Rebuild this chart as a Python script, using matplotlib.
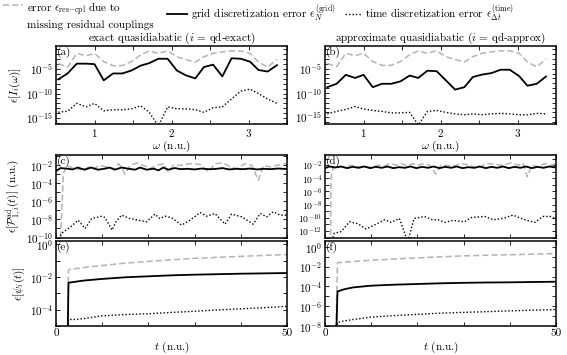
import numpy as np
import matplotlib
matplotlib.use('Agg')
import matplotlib.pyplot as plt
from matplotlib.ticker import FixedLocator, NullFormatter, LogFormatterSciNotation

plt.rcParams['font.family'] = 'serif'
plt.rcParams['font.serif'] = ['cmr10', 'DejaVu Serif']
plt.rcParams['mathtext.fontset'] = 'cm'
plt.rcParams['axes.formatter.use_mathtext'] = True
plt.rcParams['axes.unicode_minus'] = False
plt.rcParams['font.size'] = 8

# ---------------- data (log10 of the errors) ----------------

omega = [0.53, 0.65, 0.77, 0.89, 1.00, 1.12, 1.24, 1.36, 1.48, 1.60, 1.71, 1.83, 1.95,
         2.07, 2.19, 2.31, 2.42, 2.54, 2.66, 2.78, 2.90, 3.02, 3.13, 3.25, 3.37]

# spectra, panel (a)
a_rescpl = [-3.9, -4.6, -1.8, -2.3, -1.8, -3.5, -4.3, -4.3, -3.5, -2.1, -1.3, -1.8, -1.3,
            -2.5, -3.1, -3.6, -2.5, -1.8, -1.5, -1.3, -1.3, -1.8, -3.6, -4.6, -3.0]
a_grid = [-7.1, -5.9, -3.9, -3.9, -4.0, -7.3, -5.9, -5.9, -5.3, -4.3, -3.8, -2.9, -2.9,
          -5.3, -6.3, -6.9, -4.6, -4.1, -6.5, -2.8, -2.9, -3.5, -5.2, -5.5, -4.2]
a_time = [-13.8, -13.6, -12.0, -12.7, -12.0, -13.5, -13.3, -13.3, -13.1, -12.5, -13.8, -16.6, -12.7,
          -13.1, -13.1, -13.3, -13.8, -12.9, -12.7, -11.1, -9.5, -9.1, -10.0, -11.1, -12.0]

# spectra, panel (b)
b_rescpl = a_rescpl
b_grid = [-8.8, -8.1, -6.25, -6.9, -6.25, -8.8, -8.1, -8.1, -7.6, -6.4, -6.9, -5.4, -5.5,
          -7.4, -9.3, -8.8, -6.7, -6.2, -5.9, -5.2, -5.2, -6.5, -8.5, -8.1, -6.6]
b_time = [-14.3, -13.8, -13.4, -12.8, -13.3, -13.6, -13.8, -14.1, -14.1, -14.0, -16.6, -13.8, -13.6,
          -14.0, -14.3, -14.5, -14.3, -14.5, -14.3, -14.2, -14.3, -14.5, -14.5, -14.2, -14.3]

# populations, panel (c)
c_t_rescpl = [0.9, 1.6, 2.3, 3.0, 4.5, 5.9, 7.0, 8.1, 9.5, 10.9, 12.8, 13.5, 14.2, 14.9, 16.0,
              17.5, 18.9, 20.3, 21.8, 23.2, 24.3, 25.4, 26.8, 29.0, 31.2, 33.0, 34.4, 36.1,
              37.8, 39.1, 40.9, 42.4, 43.8, 44.9, 46.3, 47.8, 49.6, 50.0]
c_rescpl = [-11.0, -2.92, -2.0, -2.18, -2.37, -2.55, -2.18, -2.37, -2.0, -2.18, -2.37, -1.81, -2.18,
            -2.99, -2.0, -1.74, -2.0, -2.37, -2.0, -1.81, -2.74, -2.0, -2.0, -1.81, -1.9, -2.74,
            -1.81, -1.74, -2.18, -2.37, -1.81, -2.0, -3.66, -2.0, -2.18, -2.0, -1.81, -1.9]
c_t_grid = [0, 1.0, 2.5, 3.6, 4.7, 6.2, 7.6, 9.1, 10.5, 11.6, 12.7, 14.2, 15.6, 17.1, 18.2, 19.6,
            21.1, 22.2, 23.2, 24.3, 25.7, 27.0, 28.5, 30.0, 31.5, 33.0, 34.5, 36.0, 37.5, 39.0,
            40.5, 42.0, 43.5, 45.0, 46.5, 48.0, 50.0]
c_grid = [-2.62, -2.3, -2.37, -2.45, -2.24, -2.48, -2.24, -2.48, -2.37, -2.24, -2.48, -2.24, -2.37,
          -2.48, -2.24, -2.48, -2.37, -2.55, -2.24, -2.48, -2.3, -2.42, -2.38, -2.45, -2.35, -2.42,
          -2.4, -2.3, -2.45, -2.38, -2.42, -2.35, -2.45, -2.38, -2.42, -2.35, -2.4]
c_t_time = [0.9, 1.6, 3.0, 4.8, 6.3, 7.7, 9.9, 10.6, 12.1, 13.1, 14.2, 16.0, 17.8, 19.6, 21.4,
            22.5, 23.6, 25.0, 27.2, 29.0, 31.2, 32.6, 34.4, 36.6, 38.0, 40.2, 42.7, 44.2, 45.6,
            47.0, 48.5, 50.0]
c_time = [-9.8, -9.37, -8.89, -8.08, -9.0, -7.9, -7.64, -7.78, -9.18, -8.15, -7.52, -7.9, -8.08,
          -8.26, -7.41, -7.9, -7.64, -7.8, -8.63, -8.08, -7.23, -7.64, -7.34, -8.52, -7.41, -7.71,
          -8.52, -7.34, -7.71, -7.15, -7.52, -7.52]

# populations, panel (d)
d_t_rescpl = [1.2, 1.3, 1.7, 2.8, 4.3, 5.7, 7.1, 8.6, 10.0, 11.5, 12.9, 14.0, 15.4, 16.5, 17.9,
              19.0, 20.1, 21.5, 22.6, 24.0, 25.1, 25.9, 27.7, 29.5, 31.3, 33.1, 34.9, 36.7,
              38.5, 40.3, 41.8, 42.9, 43.8, 44.7, 46.1, 47.6, 49.0, 50.0]
d_rescpl = [-14.0, -4.0, -2.5, -2.15, -2.35, -2.0, -2.25, -2.15, -2.35, -2.0, -2.15, -1.75, -2.0,
            -1.75, -2.15, -1.75, -2.0, -1.75, -2.0, -3.36, -2.0, -2.0, -2.15, -1.75, -2.0, -2.5,
            -1.75, -1.85, -2.0, -1.65, -2.0, -1.75, -3.77, -2.0, -2.25, -1.75, -2.0, -1.75]
d_t_grid = [0, 1.0, 2.2, 3.5, 4.8, 6.0, 7.3, 8.5, 9.8, 11.0, 12.3, 13.5, 14.8, 16.0, 17.3, 18.5,
            19.8, 21.0, 22.3, 23.5, 24.8, 26.0, 27.3, 28.5, 29.8, 31.0, 32.3, 33.5, 34.8, 36.0,
            37.3, 38.5, 39.8, 41.0, 42.3, 43.5, 44.8, 46.0, 47.3, 48.5, 50.0]
d_grid = [-2.45, -2.2, -2.35, -2.2, -2.45, -2.25, -2.4, -2.2, -2.45, -2.25, -2.4, -2.2, -2.45,
          -2.3, -2.4, -2.2, -2.45, -2.25, -2.4, -2.2, -2.45, -2.25, -2.4, -2.2, -2.45, -2.3,
          -2.4, -2.2, -2.45, -2.25, -2.4, -2.2, -2.45, -2.25, -2.4, -2.2, -2.45, -2.25, -2.4,
          -2.2, -2.35]
d_t_time = [1.2, 2.0, 3.5, 5.3, 7.1, 8.9, 10.7, 12.9, 14.3, 16.1, 17.9, 19.3, 21.5, 23.3, 24.5,
            25.9, 27.7, 30.2, 31.7, 34.6, 36.4, 38.5, 40.7, 43.2, 45.4, 47.2, 49.0, 50.0]
d_time = [-14.0, -12.35, -12.1, -10.6, -10.9, -11.7, -11.1, -10.3, -10.7, -10.1, -13.6, -10.1,
          -9.8, -10.3, -10.3, -10.7, -10.4, -10.6, -9.96, -9.8, -10.3, -10.1, -9.6, -10.3, -10.7,
          -9.8, -9.8, -10.3]

# wavefunctions, panels (e) and (f)
t_wf = [0, 1.8, 2.7, 4, 6, 10, 15, 20, 25, 30, 35, 40, 45, 50]
e_rescpl = [-20, -20, -1.55, -1.5, -1.42, -1.3, -1.15, -1.05, -0.95, -0.86, -0.8, -0.74, -0.68, -0.63]
e_grid = [-20, -20, -2.35, -2.3, -2.22, -2.12, -2.02, -1.96, -1.9, -1.86, -1.83, -1.8, -1.78, -1.76]
e_time = [-20, -20, -4.6, -4.6, -4.55, -4.38, -4.3, -4.25, -4.17, -4.1, -4.02, -3.95, -3.88, -3.8]
f_rescpl = [-20, -20, -1.6, -1.55, -1.47, -1.35, -1.22, -1.11, -1.0, -0.9, -0.84, -0.79, -0.73, -0.68]
f_grid = [-20, -20, -4.51, -4.3, -4.1, -3.92, -3.82, -3.75, -3.68, -3.63, -3.6, -3.58, -3.55, -3.52]
f_time = [-20, -20, -7.65, -7.5, -7.35, -7.1, -6.95, -6.82, -6.7, -6.62, -6.55, -6.47, -6.4, -6.33]

# ---------------------------------------------------------------------------------

GRAY = '#b4b4b4'
W, H = 567, 355

def box(l, t, r, b):
    return [l / W, 1 - b / H, (r - l) / W, (b - t) / H]

fig = plt.figure(figsize=(W / 100, H / 100), dpi=100)

ax_a = fig.add_axes(box(56, 46, 287, 124))
ax_b = fig.add_axes(box(325, 46, 556, 124))
ax_c = fig.add_axes(box(56, 155, 287, 237.5))
ax_d = fig.add_axes(box(325, 155, 556, 237.5))
ax_e = fig.add_axes(box(56, 241, 287, 326))
ax_f = fig.add_axes(box(325, 241, 556, 326))


def draw(ax, x_r, y_r, x_g, y_g, x_t, y_t):
    ax.plot(x_r, 10.0 ** np.array(y_r), color=GRAY, ls=(0, (4, 2)), lw=1.1)
    ax.plot(x_g, 10.0 ** np.array(y_g), color='black', lw=1.3)
    ax.plot(x_t, 10.0 ** np.array(y_t), color='black', ls=(0, (1, 1.5)), lw=1.0)
    ax.set_yscale('log')


def style(ax, ylim, majors, minors, label, lsize=8):
    ax.set_ylim(10.0 ** ylim[0], 10.0 ** ylim[1])
    ax.yaxis.set_major_locator(FixedLocator([10.0 ** m for m in majors]))
    ax.yaxis.set_minor_locator(FixedLocator([10.0 ** m for m in minors]))
    ax.yaxis.set_major_formatter(LogFormatterSciNotation())
    ax.yaxis.set_minor_formatter(NullFormatter())
    ax.tick_params(which='both', direction='in', top=True, right=True, length=3, width=0.6, pad=2)
    ax.tick_params(axis='y', labelsize=lsize)
    for s in ax.spines.values():
        s.set_linewidth(1.1)
    ax.text(0.004, 0.99, label, transform=ax.transAxes, ha='left', va='top', fontsize=8)


draw(ax_a, omega, a_rescpl, omega, a_grid, omega, a_time)
draw(ax_b, omega, b_rescpl, omega, b_grid, omega, b_time)
draw(ax_c, c_t_rescpl, c_rescpl, c_t_grid, c_grid, c_t_time, c_time)
draw(ax_d, d_t_rescpl, d_rescpl, d_t_grid, d_grid, d_t_time, d_time)
draw(ax_e, t_wf, e_rescpl, t_wf, e_grid, t_wf, e_time)
draw(ax_f, t_wf, f_rescpl, t_wf, f_grid, t_wf, f_time)

style(ax_a, (-16.2, -0.3), [-5, -10, -15], range(-16, 0), '(a)')
style(ax_b, (-16.4, -0.3), [-5, -10, -15], range(-16, 0), '(b)')
style(ax_c, (-10, -0.85), [-2, -4, -6, -8, -10], range(-10, 0), '(c)')
style(ax_d, (-13, -0.45), [-2, -4, -6, -8, -10, -12], range(-13, 0), '(d)', lsize=7)
style(ax_e, (-5, 0.2), [0, -2, -4], range(-5, 1), '(e)')
style(ax_f, (-8, 0.6), [0, -2, -4, -6, -8], range(-8, 1), '(f)')

for ax in (ax_a, ax_b):
    ax.set_xlim(omega[0], omega[-1])
    ax.set_xticks([1, 2, 3])
    ax.set_xticks([0.5, 1.5, 2.5, 3.5], minor=True)
    ax.set_xlabel(r'$\omega$ (n.u.)', labelpad=0)

for ax in (ax_c, ax_d, ax_e, ax_f):
    ax.set_xlim(0, 50)
    ax.set_xticks([0, 10, 20, 30, 40, 50])
for ax in (ax_c, ax_d):
    ax.set_xticklabels([])
for ax in (ax_e, ax_f):
    ax.set_xticklabels(['0', '', '', '', '', '50'])
    ax.set_xlabel(r'$t$ (n.u.)', labelpad=1)

ax_a.set_title(r'exact quasidiabatic ($i$ = qd-exact)', fontsize=8, pad=2)
ax_b.set_title(r'approximate quasidiabatic ($i$ = qd-approx)', fontsize=8, pad=2)

ax_a.set_ylabel(r'$\epsilon[I_i(\omega)]$', labelpad=2)
ax_c.set_ylabel(r'$\epsilon[\mathcal{P}^{\rm ad}_{1,i}(t)]$ (n.u.)', labelpad=2)
ax_e.set_ylabel(r'$\epsilon[\psi_i(t)]$', labelpad=2)
fig.align_ylabels([ax_a, ax_c, ax_e])

# legend on top, one entry at a time
lines = ax_a.get_lines()
labels = ['error $\\epsilon_{\\rm res\\mathrm{-}cpl}$ due to\nmissing residual couplings',
          'grid discretization error $\\epsilon_N^{(\\rm grid)}$',
          'time discretization error $\\epsilon_{\\Delta t}^{(\\rm time)}$']
leg_kw = dict(frameon=False, fontsize=8, handletextpad=0.4, borderaxespad=0.0, borderpad=0.0)
leg1 = fig.legend([lines[0]], [labels[0]], loc='upper left', bbox_to_anchor=(3 / W, 1 - 1 / H),
                  handlelength=1.8, **leg_kw)
try:
    leg1._legend_handle_box.get_children()[0].get_children()[0].align = 'top'
except Exception:
    pass
fig.legend([lines[1]], [labels[1]], loc='center left', bbox_to_anchor=(167 / W, 1 - 13 / H),
           handlelength=1.8, **leg_kw)
fig.legend([lines[2]], [labels[2]], loc='center left', bbox_to_anchor=(345 / W, 1 - 13 / H),
           handlelength=1.4, **leg_kw)

fig.savefig('out.png', dpi=100)
